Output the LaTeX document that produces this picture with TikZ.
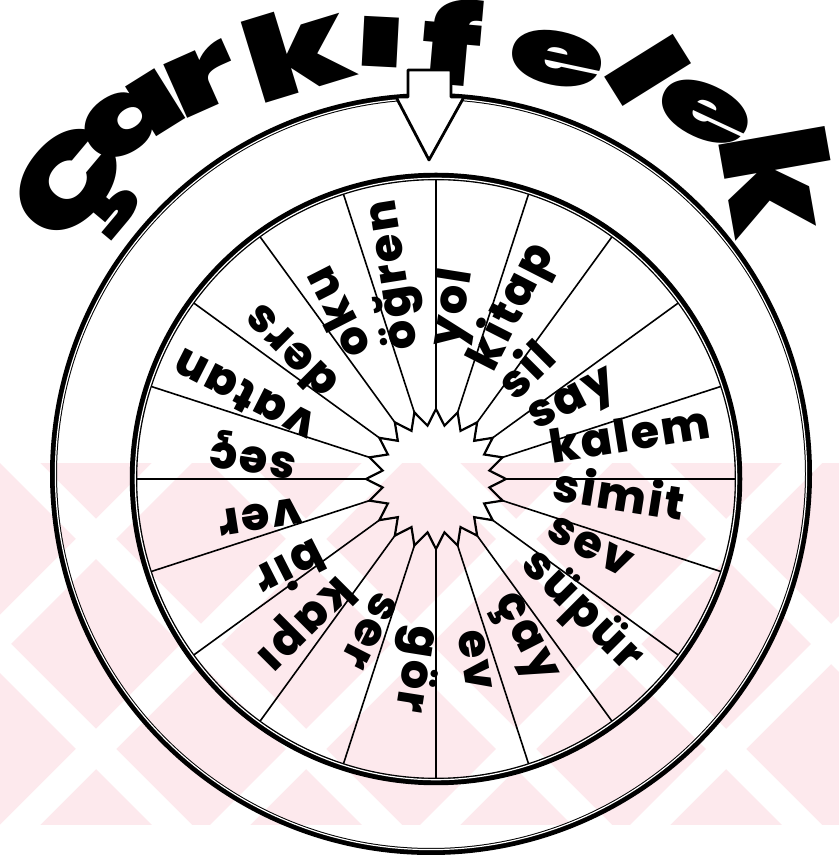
\documentclass[tikz,border=0pt]{standalone}
\usepackage{fontspec}
\usepackage{xcolor}
\setmainfont{Poppins}
\newfontfamily\wordfont{Poppins ExtraBold}[LetterSpace=5]
\newfontfamily\titlefont{Poppins Black}
\definecolor{wmark}{HTML}{FDE9ED}
\tikzset{
  word/.style={font=\wordfont\fontsize{46}{46}\selectfont, inner sep=0pt, anchor=mid west},
  titleletter/.style={font=\titlefont\fontsize{104}{104}\selectfont, inner sep=0pt, xscale=1.5},
  spoke/.style={line width=1.6pt},
  pointer/.style={line width=2.8pt, line join=round}
}

\begin{document}
\begin{tikzpicture}[x=1pt,y=1pt]
\useasboundingbox (0,0) rectangle (839,862);
% watermark
\fill[wmark] (0,37) rectangle (839,399);
\begin{scope}
\clip (0,37) rectangle (839,399);
\foreach \s in {-420,-210,...,840}
  {\fill[white] (\s,399) -- (\s+40,399) -- (\s+402,37) -- (\s+362,37) -- cycle;
   \fill[white] (\s,37) -- (\s+40,37) -- (\s+402,399) -- (\s+362,399) -- cycle;}
\end{scope}
% title
\foreach \px/\py/\rot/\ys/\ch [count=\i] in {80/672/50/1.1/Ç, 132/744/32/1/a, 202/782/24/1/r,
    297/812/17/1.1/k, 381/820/-3/0.85/ı, 452/820/-5/1.05/f, 557/803/-12/0.9/e,
    648/792/-58/1.05/l, 705/750/-25/0.9/e, 780/682/-80/1.4/k}
  \node[rotate=\rot, titleletter, yscale=\ys] (t\i) at (\px,\py) {\ch};
% outer ring
\coordinate (O) at (431,388);
\draw[line width=7pt] (O) circle (377.5);
\draw[white, line width=1.2pt] (O) circle (375.6);
% wheel
\begin{scope}[shift={(436,383)}]
\coordinate (W) at (0,0);
\foreach \k in {0,...,19}
  \draw[spoke] (\k*18:70) -- (\k*18:303);
\draw[line width=7.5pt] (W) circle (302.5);
\draw[white, line width=1.2pt] (W) circle (300.7);
\draw[line width=2.2pt, line join=miter]
  (0:70) \foreach \k in {1,...,19} { -- (\k*18-9:54) -- (\k*18:70) } -- (351:54) -- cycle;
\foreach \a/\w/\r [count=\i] in {81/yol/132, 63/kitap/120, 45/sil/111, 27/say/111, 9/kalem/117,
    -9/simit/117, -27/sev/123, -45/süpür/121, -63/çay/135, -81/ev/155,
    -99/gör/148, -117/ser/125, -135/kapı/137, -153/bir/135, -171/ver/138,
    171/seç/140, 153/vatan/132, 135/ders/136, 117/oku/145, 99/öğren/133}
  \node[word, rotate=\a] (w\i) at (\a:\r) {\w};
\end{scope}
% pointer
\draw[pointer, fill=white] (408,792) -- (451,792) -- (451,765) -- (464,765) -- (429,702)
  -- (396,765) -- (408,765) -- cycle;
\end{tikzpicture}
\end{document}
